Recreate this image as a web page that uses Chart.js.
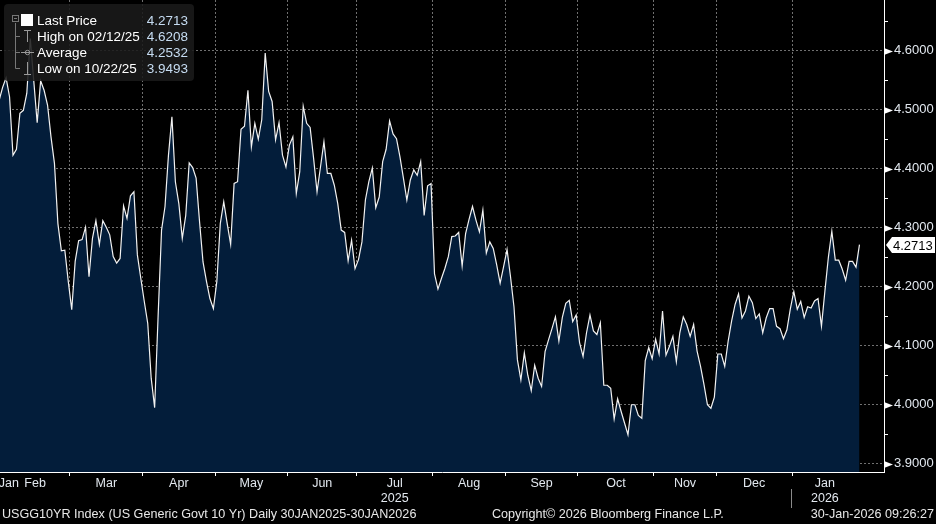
<!DOCTYPE html>
<html>
<head>
<meta charset="utf-8">
<title>USGG10YR Index</title>
<script src="https://cdn.jsdelivr.net/npm/chart.js@4.4.1/dist/chart.umd.min.js"></script>
<style>
  html, body { margin: 0; padding: 0; background: #000; }
  #wrap { width: 936px; height: 524px; }
</style>
</head>
<body>
<div id="wrap"><canvas id="chart" width="936" height="524"></canvas></div>
<script>
// US generic govt 10y yield, one close per trading day, 30 Jan 2025 .. 30 Jan 2026
var yields = [
  4.516, 4.538, 4.554, 4.522, 4.423, 4.433, 4.494, 4.499, 4.528, 4.6208,
  4.550, 4.478, 4.549, 4.533, 4.508, 4.454, 4.409, 4.307, 4.261, 4.262,
  4.209, 4.161, 4.243, 4.278, 4.280, 4.301, 4.217, 4.282, 4.312, 4.272,
  4.312, 4.301, 4.288, 4.251, 4.240, 4.248, 4.337, 4.316, 4.354, 4.361,
  4.254, 4.214, 4.175, 4.138, 4.045, 3.995, 4.150, 4.296, 4.336, 4.423,
  4.488, 4.378, 4.341, 4.282, 4.321, 4.410, 4.402, 4.384, 4.310, 4.242,
  4.209, 4.180, 4.163, 4.209, 4.307, 4.344, 4.307, 4.272, 4.375, 4.378,
  4.467, 4.472, 4.533, 4.437, 4.477, 4.450, 4.483, 4.596, 4.531, 4.514,
  4.449, 4.478, 4.423, 4.403, 4.440, 4.454, 4.358, 4.395, 4.506, 4.477,
  4.470, 4.418, 4.361, 4.403, 4.446, 4.392, 4.392, 4.372, 4.341, 4.296,
  4.292, 4.244, 4.279, 4.231, 4.246, 4.276, 4.347, 4.378, 4.401, 4.334,
  4.352, 4.412, 4.433, 4.481, 4.459, 4.451, 4.420, 4.384, 4.347, 4.381,
  4.398, 4.389, 4.412, 4.321, 4.371, 4.375, 4.222, 4.196, 4.214, 4.231,
  4.251, 4.285, 4.286, 4.292, 4.235, 4.290, 4.314, 4.336, 4.313, 4.293,
  4.330, 4.257, 4.276, 4.265, 4.237, 4.206, 4.234, 4.263, 4.217, 4.166,
  4.076, 4.042, 4.088, 4.050, 4.024, 4.067, 4.045, 4.031, 4.090, 4.110,
  4.129, 4.149, 4.108, 4.148, 4.172, 4.177, 4.141, 4.152, 4.105, 4.082,
  4.122, 4.152, 4.125, 4.119, 4.139, 4.033, 4.033, 4.028, 3.976, 4.010,
  3.989, 3.969, 3.9493, 4.000, 4.000, 3.982, 3.977, 4.075, 4.097, 4.078,
  4.111, 4.086, 4.159, 4.084, 4.099, 4.116, 4.073, 4.122, 4.149, 4.136,
  4.116, 4.136, 4.091, 4.065, 4.034, 4.000, 3.994, 4.013, 4.086, 4.086,
  4.065, 4.108, 4.142, 4.170, 4.188, 4.147, 4.159, 4.184, 4.173, 4.146,
  4.154, 4.122, 4.147, 4.163, 4.163, 4.133, 4.129, 4.112, 4.127, 4.163,
  4.192, 4.162, 4.175, 4.148, 4.166, 4.164, 4.176, 4.180, 4.133, 4.193,
  4.250, 4.294, 4.245, 4.245, 4.230, 4.211, 4.243, 4.243, 4.233, 4.2713
];

// month boundaries and label positions, in trading-day index units
var monthBounds = [20.5, 41.5, 62.5, 83.5, 103.5, 125.5, 146.5, 167.5, 189.5, 207.5, 229.5];
var monthPos = [2.8, 10.4, 31, 52, 73, 93.5, 114.5, 136, 157, 178.5, 198.5, 218.5, 239];
var monthLabels = ['Jan', 'Feb', 'Mar', 'Apr', 'May', 'Jun', ['Jul', '2025'], 'Aug', 'Sep',
                   'Oct', 'Nov', 'Dec', ['Jan', '2026']];
var yearBreak = 229.5;

var yTicks = [3.90, 3.95, 4.00, 4.05, 4.10, 4.15, 4.20, 4.25, 4.30, 4.35,
              4.40, 4.45, 4.50, 4.55, 4.60, 4.65];

var lastPrice = 4.2713;
var statLabels = ['Last Price', 'High on 02/12/25', 'Average', 'Low on 10/22/25'];
var statValues = ['4.2713', '4.6208', '4.2532', '3.9493'];

var footerLeft = 'USGG10YR Index (US Generic Govt 10 Yr) Daily 30JAN2025-30JAN2026';
var footerMid = 'Copyright\u00a9 2026 Bloomberg Finance L.P.';
var footerRight = '30-Jan-2026 09:26:27';

var FONT = '"Liberation Sans", Arial, sans-serif';
var GRID = 'rgba(150,150,150,0.75)';

function isMajor(v) {
    return Math.abs(v * 10 - Math.round(v * 10)) < 1e-6;
}

var bbgDecor = {
    id: 'bbgDecor',

    beforeDraw: function (chart) {
        var ctx = chart.ctx;
        ctx.save();
        ctx.fillStyle = '#000000';
        ctx.fillRect(0, 0, chart.width, chart.height);
        ctx.restore();
    },

    afterDraw: function (chart) {
        var ctx = chart.ctx;
        var ys = chart.scales.y;
        var xs = chart.scales.x;
        var right = chart.chartArea.right;
        var bottom = chart.chartArea.bottom;

        ctx.save();

        // arrow heads on the major y ticks
        ctx.fillStyle = '#ffffff';
        yTicks.forEach(function (v) {
            if (!isMajor(v)) return;
            var py = Math.round(ys.getPixelForValue(v)) + 0.5;
            ctx.beginPath();
            ctx.moveTo(right, py - 3.5);
            ctx.lineTo(right + 9, py);
            ctx.lineTo(right, py + 3.5);
            ctx.closePath();
            ctx.fill();
        });

        // last price tag
        var ly = Math.round(ys.getPixelForValue(lastPrice));
        ctx.beginPath();
        ctx.moveTo(right + 2, ly);
        ctx.lineTo(right + 8, ly - 8);
        ctx.lineTo(chart.width - 1, ly - 8);
        ctx.lineTo(chart.width - 1, ly + 8);
        ctx.lineTo(right + 8, ly + 8);
        ctx.closePath();
        ctx.fill();
        ctx.fillStyle = '#000000';
        ctx.font = '13px ' + FONT;
        ctx.textBaseline = 'middle';
        ctx.textAlign = 'left';
        ctx.fillText(lastPrice.toFixed(4), right + 9, ly + 1);

        // legend box
        ctx.fillStyle = 'rgba(26,26,26,0.88)';
        ctx.beginPath();
        ctx.roundRect(4, 4, 190, 77, 4);
        ctx.fill();

        var rowY = [20, 36, 52, 68];
        ctx.strokeStyle = '#777777';
        ctx.lineWidth = 1;
        ctx.strokeRect(12.5, 15.5, 6, 6);
        ctx.beginPath();
        ctx.moveTo(14, 18.5); ctx.lineTo(17, 18.5);
        ctx.moveTo(15.5, 23); ctx.lineTo(15.5, 68.5);
        for (var r = 1; r < 4; r++) {
            ctx.moveTo(15.5, rowY[r] + 0.5); ctx.lineTo(20, rowY[r] + 0.5);
        }
        ctx.stroke();

        ctx.fillStyle = '#ffffff';
        ctx.fillRect(21, 14, 12, 12);

        ctx.strokeStyle = '#9a9a9a';
        ctx.beginPath();
        ctx.moveTo(24, 30.5); ctx.lineTo(31, 30.5);
        ctx.moveTo(27.5, 30); ctx.lineTo(27.5, 42);
        ctx.moveTo(21, 52.5); ctx.lineTo(34, 52.5);
        ctx.moveTo(27.5, 62); ctx.lineTo(27.5, 74);
        ctx.moveTo(24, 74.5); ctx.lineTo(31, 74.5);
        ctx.stroke();
        ctx.beginPath();
        ctx.arc(27.5, 52.5, 2.2, 0, Math.PI * 2);
        ctx.stroke();

        ctx.font = '13.5px ' + FONT;
        ctx.textBaseline = 'middle';
        for (var k = 0; k < statLabels.length; k++) {
            ctx.textAlign = 'left';
            ctx.fillStyle = '#ffffff';
            ctx.fillText(statLabels[k], 37, rowY[k] + 1);
            ctx.textAlign = 'right';
            ctx.fillStyle = '#c6dcf2';
            ctx.fillText(statValues[k], 188, rowY[k] + 1);
        }

        // year separator under the axis
        var bx = Math.round(xs.getPixelForValue(yearBreak)) - 0.5;
        ctx.strokeStyle = '#8a8a8a';
        ctx.beginPath();
        ctx.moveTo(bx, bottom + 17);
        ctx.lineTo(bx, bottom + 36);
        ctx.stroke();

        // footer
        ctx.font = '12.6px ' + FONT;
        ctx.fillStyle = '#e8e8e8';
        ctx.textBaseline = 'middle';
        ctx.textAlign = 'left';
        ctx.fillText(footerLeft, 2, 515);
        ctx.fillText(footerMid, 492, 515);
        ctx.textAlign = 'right';
        ctx.fillText(footerRight, 934, 515);

        ctx.restore();
    }
};

new Chart(document.getElementById('chart').getContext('2d'), {
    type: 'line',
    data: {
        datasets: [{
            label: 'USGG10YR',
            data: yields.map(function (v, i) { return {x: i, y: v}; }),
            xAxisID: 'x',
            yAxisID: 'y',
            borderColor: '#f2f2f2',
            borderWidth: 1.2,
            backgroundColor: '#031d3a',
            fill: 'start',
            tension: 0,
            pointRadius: 0
        }]
    },
    options: {
        responsive: false,
        animation: false,
        devicePixelRatio: 1,
        layout: { padding: 0 },
        plugins: {
            legend: { display: false },
            tooltip: { enabled: false }
        },
        scales: {
            x: {
                type: 'linear',
                position: 'bottom',
                min: 0.24,
                max: 256.1,
                weight: 0,
                z: 1,
                afterBuildTicks: function (s) {
                    s.ticks = monthBounds.map(function (v) { return {value: v}; });
                },
                afterFit: function (s) {
                    s.height = 4;
                    s.paddingLeft = 0;
                    s.paddingRight = 0;
                },
                grid: { color: GRID, lineWidth: 1, drawTicks: true, tickLength: 4, tickColor: '#ffffff' },
                border: { display: true, color: '#ffffff', width: 1, dash: [2, 2] },
                ticks: { display: false }
            },
            x2: {
                type: 'linear',
                position: 'bottom',
                min: 0.24,
                max: 256.1,
                weight: 1,
                afterBuildTicks: function (s) {
                    s.ticks = monthPos.map(function (v) { return {value: v}; });
                },
                afterFit: function (s) {
                    s.height = 48;
                    s.paddingLeft = 0;
                    s.paddingRight = 0;
                },
                grid: { display: false, drawTicks: false },
                border: { display: false },
                ticks: {
                    color: '#e2e8ef',
                    padding: 0,
                    autoSkip: false,
                    maxRotation: 0,
                    font: { family: FONT, size: 12.5 },
                    callback: function (v, i) { return monthLabels[i]; }
                }
            },
            y: {
                type: 'linear',
                position: 'right',
                min: 3.886,
                max: 4.686,
                z: 1,
                afterBuildTicks: function (s) {
                    s.ticks = yTicks.map(function (v) { return {value: v}; });
                },
                afterFit: function (s) {
                    s.width = 52;
                    s.paddingTop = 0;
                    s.paddingBottom = 0;
                },
                grid: {
                    color: function (c) {
                        return c.tick && isMajor(c.tick.value) ? GRID : 'rgba(0,0,0,0)';
                    },
                    lineWidth: 1,
                    drawTicks: true,
                    tickLength: 4,
                    tickColor: '#ffffff'
                },
                border: { display: true, color: '#ffffff', width: 1, dash: [2, 2] },
                ticks: {
                    color: '#e2e8ef',
                    padding: 6,
                    autoSkip: false,
                    font: { family: FONT, size: 13 },
                    callback: function (v) { return isMajor(v) ? v.toFixed(4) : ''; }
                }
            }
        }
    },
    plugins: [bbgDecor]
});
</script>
</body>
</html>
